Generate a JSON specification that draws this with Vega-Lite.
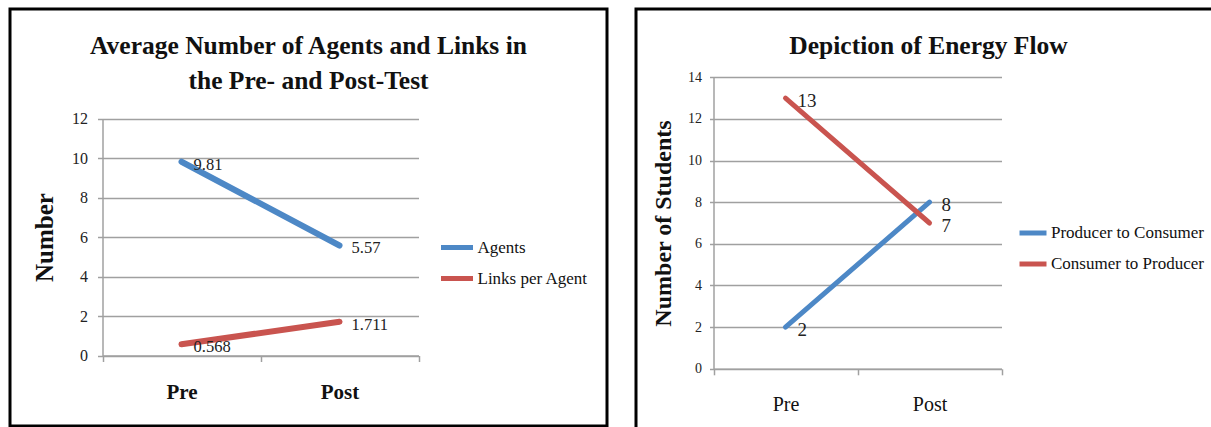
{
  "$schema": "https://vega.github.io/schema/vega-lite/v6.json",
  "padding": {"left": 8, "top": 7, "right": 0, "bottom": 0},
  "background": "white",
  "spacing": 25,
  "config": {
    "view": {"stroke": "black", "strokeWidth": 3, "fill": "white"},
    "font": "Liberation Serif",
    "axis": {
      "domainColor": "#a0a0a0", "domainWidth": 1.5,
      "tickColor": "#a0a0a0", "tickWidth": 1.5,
      "gridColor": "#a0a0a0", "gridWidth": 1.5, "gridOpacity": 1,
      "labelColor": "#222222", "labelFont": "Liberation Serif",
      "titleFont": "Liberation Serif", "titleColor": "#111111"
    },
    "legend": {"labelFont": "Liberation Serif", "labelColor": "#111111"}
  },
  "hconcat": [
    {
      "width": 597,
      "height": 417,
      "title": {
        "text": ["Average Number of Agents and Links in", "the Pre- and Post-Test"],
        "font": "Liberation Serif", "fontSize": 25.5, "fontWeight": "bold", "color": "#111111",
        "anchor": "middle", "offset": -85, "lineHeight": 35
      },
      "data": {"values": [
        {"test": "Pre", "series": "Agents", "value": 9.81},
        {"test": "Post", "series": "Agents", "value": 5.57},
        {"test": "Pre", "series": "Links per Agent", "value": 0.568},
        {"test": "Post", "series": "Links per Agent", "value": 1.711}
      ]},
      "encoding": {
        "x": {
          "field": "test", "type": "nominal", "sort": ["Pre", "Post"],
          "scale": {"range": [92.5, 408.5], "paddingInner": 0, "paddingOuter": 0},
          "axis": {"title": null, "labelAngle": 0, "tickBand": "extent", "offset": -70.5,
                   "tickSize": 6, "labelPadding": 20, "labelFontSize": 21, "labelFontWeight": "bold",
                   "labelFont": "Liberation Serif", "labelColor": "#111111", "grid": false}
        },
        "y": {
          "field": "value", "type": "quantitative",
          "scale": {"domain": [0, 12], "range": [346.5, 109.5], "nice": false},
          "axis": {"title": "Number", "values": [0, 2, 4, 6, 8, 10, 12], "offset": -92.5,
                   "tickSize": 5, "labelPadding": 10, "labelFontSize": 16, "labelFont": "Liberation Serif",
                   "titleFontSize": 25, "titleFontWeight": "bold", "titlePadding": 14, "grid": true}
        }
      },
      "layer": [
        {
          "mark": {"type": "line", "strokeWidth": 6, "strokeCap": "round"},
          "encoding": {
            "color": {
              "field": "series", "type": "nominal",
              "scale": {"domain": ["Agents", "Links per Agent"], "range": ["#4d88c6", "#c9544f"]},
              "legend": {"title": null, "orient": "none", "legendX": 428.5, "legendY": 220,
                         "symbolType": "stroke", "symbolSize": 1024, "symbolStrokeWidth": 5,
                         "labelFont": "Liberation Serif", "labelFontSize": 17, "labelColor": "#111111",
                         "labelOffset": 2, "rowPadding": 2, "padding": 0}
            }
          }
        },
        {
          "mark": {"type": "text", "align": "left", "baseline": "middle", "dx": 12, "dy": 3, "fontSize": 16.5, "font": "Liberation Serif", "color": "#222222"},
          "encoding": {"text": {"field": "value", "type": "quantitative"}}
        }
      ]
    },
    {
      "width": 585,
      "height": 425,
      "title": {
        "text": "Depiction of Energy Flow",
        "font": "Liberation Serif", "fontSize": 25.5, "fontWeight": "bold", "color": "#111111",
        "anchor": "middle", "offset": -50
      },
      "data": {"values": [
        {"test": "Pre", "series": "Producer to Consumer", "students": 2},
        {"test": "Post", "series": "Producer to Consumer", "students": 8},
        {"test": "Pre", "series": "Consumer to Producer", "students": 13},
        {"test": "Post", "series": "Consumer to Producer", "students": 7}
      ]},
      "encoding": {
        "x": {
          "field": "test", "type": "nominal", "sort": ["Pre", "Post"],
          "scale": {"range": [77.5, 365.5], "paddingInner": 0, "paddingOuter": 0},
          "axis": {"title": null, "labelAngle": 0, "tickBand": "extent", "offset": -65.2,
                   "tickSize": 6, "labelPadding": 20, "labelFontSize": 20, "labelFont": "Liberation Serif",
                   "labelColor": "#111111", "grid": false}
        },
        "y": {
          "field": "students", "type": "quantitative",
          "scale": {"domain": [0, 14], "range": [359.8, 68.2], "nice": false},
          "axis": {"title": "Number of Students", "values": [0, 2, 4, 6, 8, 10, 12, 14], "offset": -77.5,
                   "tickSize": 4, "labelPadding": 8, "labelFontSize": 14, "labelFont": "Liberation Serif",
                   "titleFontSize": 24, "titleFontWeight": "bold", "titlePadding": 12, "grid": true}
        }
      },
      "layer": [
        {
          "mark": {"type": "line", "strokeWidth": 5, "strokeCap": "round"},
          "encoding": {
            "color": {
              "field": "series", "type": "nominal",
              "scale": {"domain": ["Producer to Consumer", "Consumer to Producer"], "range": ["#4d88c6", "#c9544f"]},
              "legend": {"title": null, "orient": "none", "legendX": 381, "legendY": 208,
                         "symbolType": "stroke", "symbolSize": 729, "symbolStrokeWidth": 5,
                         "labelFont": "Liberation Serif", "labelFontSize": 17, "labelColor": "#111111",
                         "labelOffset": 2, "rowPadding": 5, "padding": 0}
            }
          }
        },
        {
          "mark": {"type": "text", "align": "left", "baseline": "middle", "dx": 12, "dy": 3, "fontSize": 19, "font": "Liberation Serif", "color": "#222222"},
          "encoding": {"text": {"field": "students", "type": "quantitative"}}
        }
      ]
    }
  ],
  "resolve": {"scale": {"color": "independent"}, "legend": {"color": "independent"}}
}
